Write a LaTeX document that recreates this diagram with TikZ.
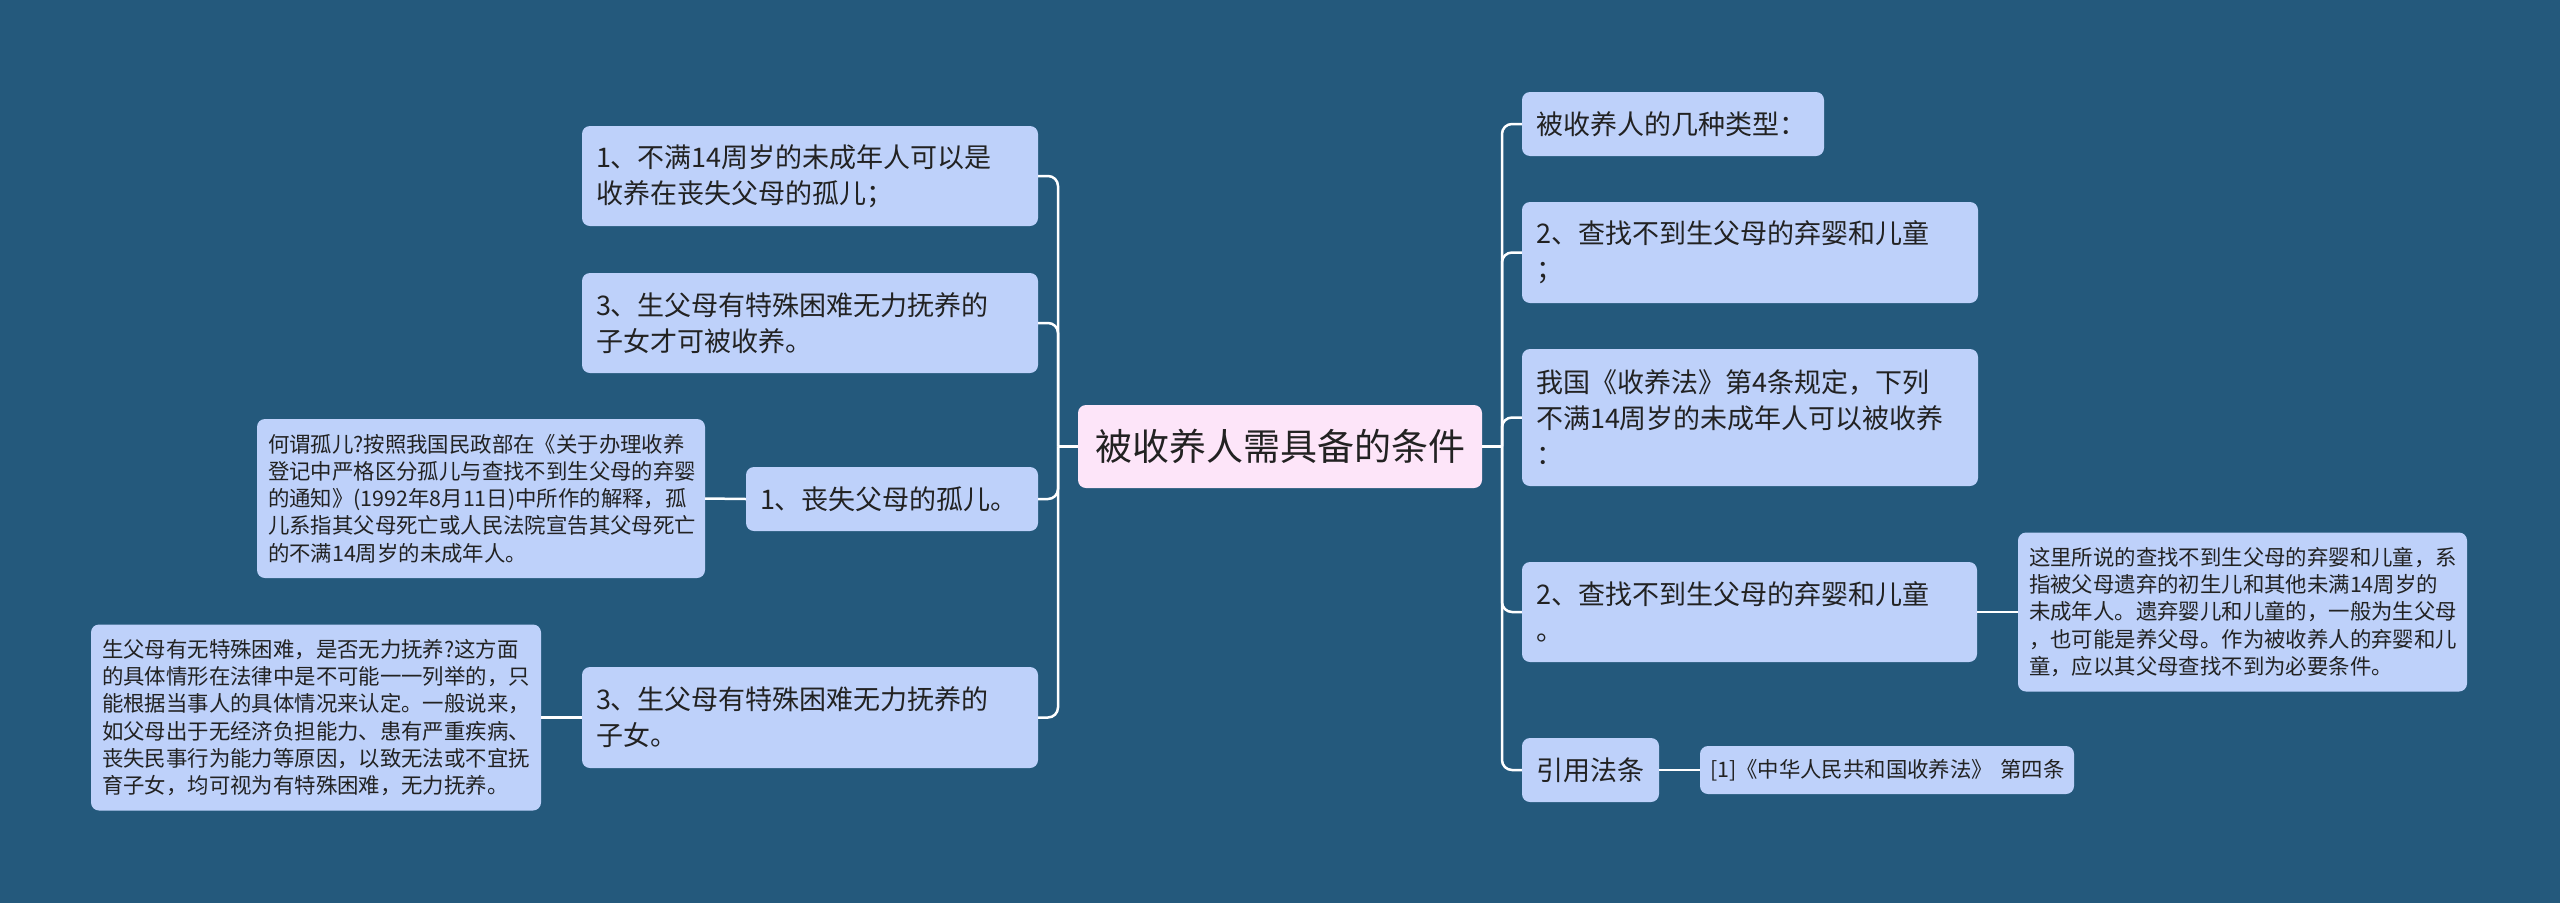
\documentclass[tikz,border=0pt]{standalone}
\usepackage{fontspec}
\setmainfont{Noto Sans CJK SC}
\definecolor{bg}{RGB}{36,89,124}
\definecolor{nodefill}{RGB}{190,209,250}
\definecolor{rootfill}{RGB}{253,229,249}
\definecolor{txt}{RGB}{34,34,34}
\tikzset{
  box/.style={rectangle, rounded corners=8pt, fill=nodefill, text=txt, align=left, inner ysep=0pt, anchor=center},
  mainbox/.style={box, font=\fontsize{27}{36}\selectfont, inner xsep=14pt},
  detbox/.style={box, font=\fontsize{21.4}{27.3}\selectfont, inner xsep=11pt},
  conn/.style={draw=white, line width=2.5pt, rounded corners=10pt},
}
\begin{document}
\begin{tikzpicture}[x=1pt, y=-1pt]
\fill[bg] (0,0) rectangle (2560,903);
\useasboundingbox (0,0) rectangle (2560,903);

% root
\node[box, fill=rootfill, align=center, font=\fontsize{37}{44}\selectfont, inner xsep=17pt, minimum width=404pt, minimum height=83pt] (root) at (1280,446.5) {被收养人需具备的条件};

% left branch
\node[mainbox, text width=428pt, minimum height=100pt] (L1) at (810,176) {1、不满14周岁的未成年人可以是\\收养在丧失父母的孤儿；};
\node[mainbox, text width=428pt, minimum height=100pt] (L2) at (810,323) {3、生父母有特殊困难无力抚养的\\子女才可被收养。};
\node[mainbox, text width=264pt, minimum height=64pt] (L3) at (892,499) {1、丧失父母的孤儿。};
\node[mainbox, text width=428pt, minimum height=101pt] (L4) at (810,717.5) {3、生父母有特殊困难无力抚养的\\子女。};

\node[detbox, text width=426pt, minimum height=159pt] (D1) at (481,498.5) {何谓孤儿?按照我国民政部在《关于办理收养\\登记中严格区分孤儿与查找不到生父母的弃婴\\的通知》(1992年8月11日)中所作的解释，孤\\儿系指其父母死亡或人民法院宣告其父母死亡\\的不满14周岁的未成年人。};
\node[detbox, text width=428pt, minimum height=186pt] (D2) at (316,717.5) {生父母有无特殊困难，是否无力抚养?这方面\\的具体情形在法律中是不可能一一列举的，只\\能根据当事人的具体情况来认定。一般说来，\\如父母出于无经济负担能力、患有严重疾病、\\丧失民事行为能力等原因，以致无法或不宜抚\\育子女，均可视为有特殊困难，无力抚养。};

% right branch
\node[mainbox, text width=274pt, minimum height=64pt] (R1) at (1673,124) {被收养人的几种类型：};
\node[mainbox, text width=428pt, minimum height=101pt] (R2) at (1750,252.5) {2、查找不到生父母的弃婴和儿童\\；};
\node[mainbox, text width=428pt, minimum height=137pt] (R3) at (1750,417.5) {我国《收养法》第4条规定，下列\\不满14周岁的未成年人可以被收养\\：};
\node[mainbox, text width=427pt, minimum height=100pt] (R4) at (1749.5,612) {2、查找不到生父母的弃婴和儿童\\。};
\node[mainbox, text width=109pt, minimum height=64pt] (R5) at (1590.5,770) {引用法条};

\node[detbox, text width=427pt, minimum height=159pt] (D3) at (2242.5,612) {这里所说的查找不到生父母的弃婴和儿童，系\\指被父母遗弃的初生儿和其他未满14周岁的\\未成年人。遗弃婴儿和儿童的，一般为生父母\\，也可能是养父母。作为被收养人的弃婴和儿\\童，应以其父母查找不到为必要条件。};
\node[detbox, inner xsep=10pt, text width=354pt, minimum height=48pt] (D4) at (1887,770) {\mbox{[1]《中华人民共和国收养法》~第四条}};

% connectors
\coordinate (lt) at (1058,446.5);
\coordinate (rt) at (1502,446.5);
\draw[conn] (root.west) -- (lt);
\foreach \n in {L1,L2,L3,L4} \draw[conn] (lt) |- (\n.east);
\draw[conn] (root.east) -- (rt);
\foreach \n in {R1,R2,R3,R4,R5} \draw[conn] (rt) |- (\n.west);
\draw[conn] (L3.west) -- (D1.east);
\draw[conn] (L4.west) -- (D2.east);
\draw[conn] (R4.east) -- (D3.west);
\draw[conn] (R5.east) -- (D4.west);
\end{tikzpicture}
\end{document}
